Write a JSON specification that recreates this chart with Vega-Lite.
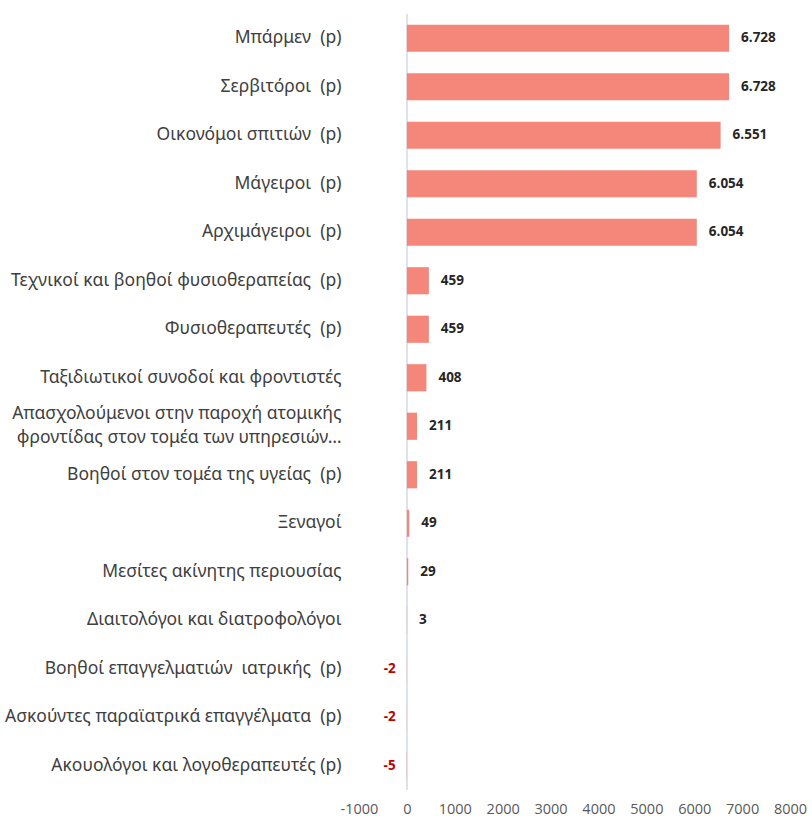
{
  "$schema": "https://vega.github.io/schema/vega-lite/v6.json",
  "autosize": {"type": "none"},
  "width": 431,
  "height": 776,
  "padding": {"left": 359, "top": 14, "right": 22, "bottom": 28},
  "config": {
    "view": {"stroke": null},
    "locale": {"number": {"decimal": ",", "thousands": ".", "grouping": [3], "currency": ["", " €"], "minus": "-"}},
    "font": "Liberation Sans"
  },
  "data": {
    "values": [
      {"job": "Μπάρμεν  (p)", "value": 6728},
      {"job": "Σερβιτόροι  (p)", "value": 6728},
      {"job": "Οικονόμοι σπιτιών  (p)", "value": 6551},
      {"job": "Μάγειροι  (p)", "value": 6054},
      {"job": "Αρχιμάγειροι  (p)", "value": 6054},
      {"job": "Τεχνικοί και βοηθοί φυσιοθεραπείας  (p)", "value": 459},
      {"job": "Φυσιοθεραπευτές  (p)", "value": 459},
      {"job": "Ταξιδιωτικοί συνοδοί και φροντιστές", "value": 408},
      {"job": "Απασχολούμενοι στην παροχή ατομικής|φροντίδας στον τομέα των υπηρεσιών…", "value": 211},
      {"job": "Βοηθοί στον τομέα της υγείας  (p)", "value": 211},
      {"job": "Ξεναγοί", "value": 49},
      {"job": "Μεσίτες ακίνητης περιουσίας", "value": 29},
      {"job": "Διαιτολόγοι και διατροφολόγοι", "value": 3},
      {"job": "Βοηθοί επαγγελματιών  ιατρικής  (p)", "value": -2},
      {"job": "Ασκούντες παραϊατρικά επαγγέλματα  (p)", "value": -2},
      {"job": "Ακουολόγοι και λογοθεραπευτές (p)", "value": -5}
    ]
  },
  "encoding": {
    "y": {
      "field": "job",
      "type": "nominal",
      "sort": null,
      "title": null,
      "scale": {"paddingInner": 0.44, "paddingOuter": 0.22},
      "axis": {
        "domain": false,
        "ticks": false,
        "labelPadding": 18,
        "labelLimit": 400,
        "labelFont": "Noto Sans",
        "labelFontSize": 17.5,
        "labelColor": "#404040",
        "labelLineHeight": 24,
        "labelBaseline": {"condition": {"test": "indexof(datum.value, '|') >= 0", "value": "line-bottom"}, "value": "middle"},
        "labelExpr": "indexof(datum.label, '|') >= 0 ? [split(datum.label, '|')[0] + '\u00a0\u00a0\u00a0', split(datum.label, '|')[1]] : replace(datum.label, /  /g, ' \u00a0')"
      }
    }
  },
  "layer": [
    {
      "mark": {"type": "rule", "color": "#dde3ea", "strokeWidth": 1.5},
      "encoding": {"x": {"datum": 0, "type": "quantitative"}, "y": null}
    },
    {
      "mark": {"type": "bar", "color": "#f4877a"},
      "encoding": {
        "x": {
          "field": "value",
          "type": "quantitative",
          "title": null,
          "scale": {"domain": [-1000, 8000], "nice": false, "zero": false},
          "axis": {
            "values": [-1000, 0, 1000, 2000, 3000, 4000, 5000, 6000, 7000, 8000],
            "format": "d",
            "domain": false,
            "ticks": false,
            "grid": false,
            "labelFont": "Open Sans",
            "labelFontSize": 14.5,
            "labelColor": "#595959",
            "labelPadding": 12,
            "labelFlush": false
          }
        }
      }
    },
    {
      "transform": [{"filter": "datum.value >= 0"}],
      "mark": {"type": "text", "align": "left", "dx": 12, "font": "Open Sans", "fontWeight": "bold", "fontSize": 13.5, "color": "#262626"},
      "encoding": {
        "x": {"field": "value", "type": "quantitative"},
        "text": {"field": "value", "type": "quantitative", "format": ",d"}
      }
    },
    {
      "transform": [{"filter": "datum.value < 0"}],
      "mark": {"type": "text", "align": "right", "dx": -11, "font": "Open Sans", "fontWeight": "bold", "fontSize": 13.5, "color": "#c00000"},
      "encoding": {
        "x": {"field": "value", "type": "quantitative"},
        "text": {"field": "value", "type": "quantitative", "format": ",d"}
      }
    }
  ]
}
